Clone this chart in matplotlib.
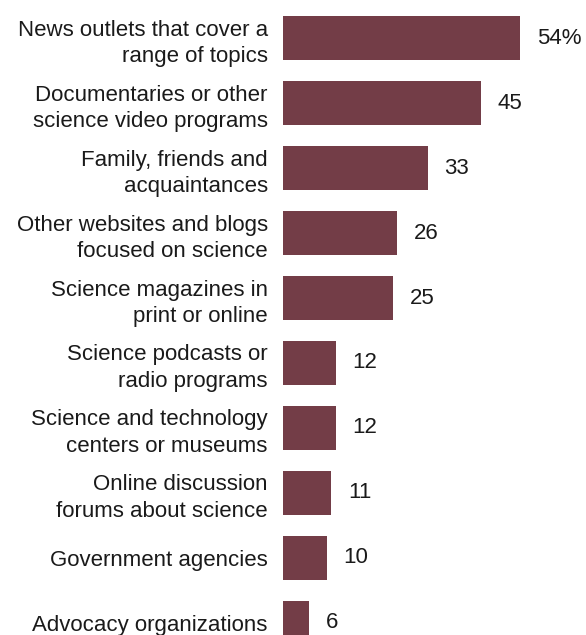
import matplotlib.pyplot as plt

# Share of respondents who say they get science news from each source
sources = [
    "News outlets that cover a\nrange of topics",
    "Documentaries or other\nscience video programs",
    "Family, friends and\nacquaintances",
    "Other websites and blogs\nfocused on science",
    "Science magazines in\nprint or online",
    "Science podcasts or\nradio programs",
    "Science and technology\ncenters or museums",
    "Online discussion\nforums about science",
    "Government agencies",
    "Advocacy organizations",
]
shares = [54, 45, 33, 26, 25, 12, 12, 11, 10, 6]
value_labels = ["54%", "45", "33", "26", "25", "12", "12", "11", "10", "6"]

BAR_COLOR = "#733d47"
TEXT_COLOR = "#1a1a1a"

plt.rcParams["font.family"] = ["Liberation Sans", "DejaVu Sans"]

fig = plt.figure(figsize=(5.86, 6.35), dpi=100)
ax = fig.add_axes([283 / 586, 0, 1 - 283 / 586, 1])

ypos = list(range(len(sources)))
ax.barh(ypos, shares, height=0.677, color=BAR_COLOR, edgecolor="none")

for y, v, lab in zip(ypos, shares, value_labels):
    ax.annotate(lab, xy=(v, y), xytext=(12, 0), textcoords="offset points",
                ha="left", va="center", fontsize=16, color=TEXT_COLOR)

ax.set_yticks(ypos)
ax.set_yticklabels(sources, fontsize=16, color=TEXT_COLOR, ha="right",
                   linespacing=1.35)
ax.tick_params(axis="y", length=0, pad=11)
ax.set_xticks([])
ax.set_xlim(0, 303 / 4.39)
ax.set_ylim(9.185, -0.585)
for s in ax.spines.values():
    s.set_visible(False)

fig.savefig("out.png", dpi=100)
